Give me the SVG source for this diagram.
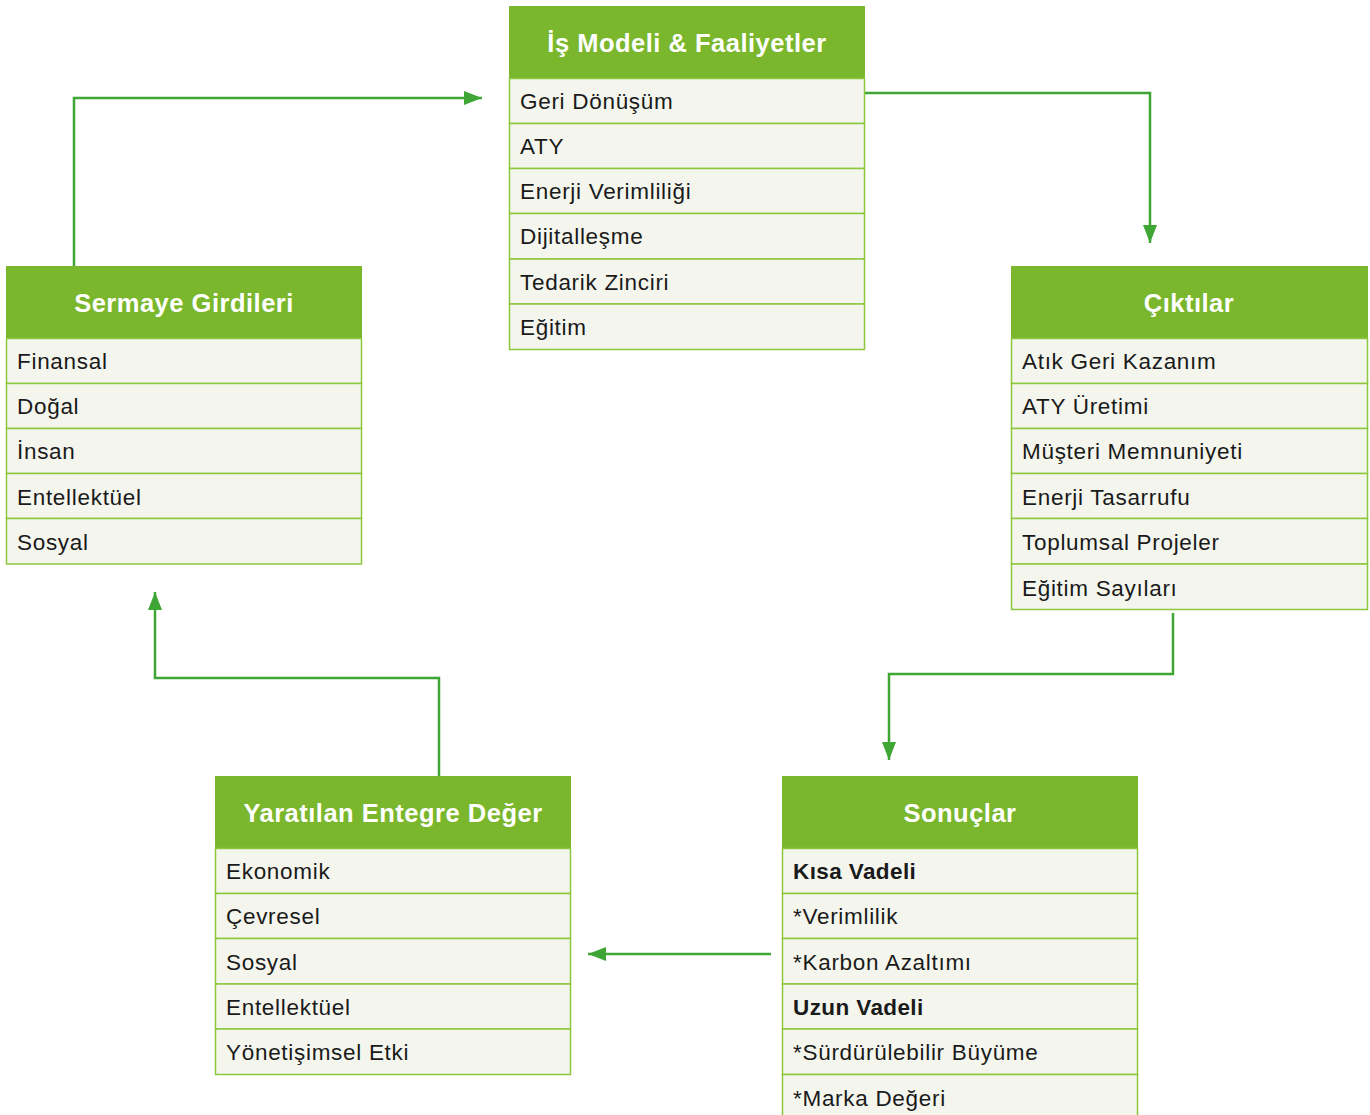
<svg xmlns="http://www.w3.org/2000/svg" width="1370" height="1115" viewBox="0 0 1370 1115">
<style>
.hd{fill:#7ab72c}
.row{fill:#f4f6ee;stroke:#8dc63f;stroke-width:1.5}
.ht{font-family:"Liberation Sans",Arial,sans-serif;font-weight:bold;font-size:25.5px;letter-spacing:0.5px;fill:#fff;text-anchor:middle}
.rt{font-family:"Liberation Sans",Arial,sans-serif;font-size:22.5px;letter-spacing:0.7px;fill:#1a1a1a}
.b{font-weight:bold;letter-spacing:0.4px}
.cn{fill:none;stroke:#3fa535;stroke-width:2.5;marker-end:url(#ah)}
</style>
<defs>
<marker id="ah" markerUnits="userSpaceOnUse" markerWidth="20" markerHeight="14" refX="18" refY="7" orient="auto">
<path d="M0,0 L18,7 L0,14 Z" fill="#3fa535"/>
</marker>
</defs>
<rect width="1370" height="1115" fill="#fff"/>
<g id="connectors">
<path class="cn" d="M74,266 V98 H482"/>
<path class="cn" d="M865,93 H1150 V243"/>
<path class="cn" d="M1173,613 V674 H889 V760"/>
<path class="cn" d="M771,954 H588"/>
<path class="cn" d="M439,776 V678 H155 V592"/>
</g>
<g id="is-modeli">
<rect class="hd" x="509" y="6" width="356" height="72"/>
<text class="ht" x="687" y="52">İş Modeli &amp; Faaliyetler</text>
<rect class="row" x="509.5" y="78.5" width="355" height="45"/>
<rect class="row" x="509.5" y="123.5" width="355" height="45"/>
<rect class="row" x="509.5" y="168.5" width="355" height="45"/>
<rect class="row" x="509.5" y="213.5" width="355" height="45.5"/>
<rect class="row" x="509.5" y="259" width="355" height="45"/>
<rect class="row" x="509.5" y="304" width="355" height="45.5"/>
<text class="rt" x="520" y="109">Geri Dönüşüm</text>
<text class="rt" x="520" y="154">ATY</text>
<text class="rt" x="520" y="199">Enerji Verimliliği</text>
<text class="rt" x="520" y="244">Dijitalleşme</text>
<text class="rt" x="520" y="290">Tedarik Zinciri</text>
<text class="rt" x="520" y="335">Eğitim</text>
</g>
<g id="sermaye">
<rect class="hd" x="6" y="266" width="356" height="72"/>
<text class="ht" x="184" y="312">Sermaye Girdileri</text>
<rect class="row" x="6.5" y="338.5" width="355" height="45"/>
<rect class="row" x="6.5" y="383.5" width="355" height="45"/>
<rect class="row" x="6.5" y="428.5" width="355" height="45"/>
<rect class="row" x="6.5" y="473.5" width="355" height="45"/>
<rect class="row" x="6.5" y="518.5" width="355" height="45.5"/>
<text class="rt" x="17" y="369">Finansal</text>
<text class="rt" x="17" y="414">Doğal</text>
<text class="rt" x="17" y="459">İnsan</text>
<text class="rt" x="17" y="505">Entellektüel</text>
<text class="rt" x="17" y="550">Sosyal</text>
</g>
<g id="ciktilar">
<rect class="hd" x="1011" y="266" width="357" height="72"/>
<text class="ht" x="1189" y="312">Çıktılar</text>
<rect class="row" x="1011.5" y="338.5" width="356" height="45"/>
<rect class="row" x="1011.5" y="383.5" width="356" height="45"/>
<rect class="row" x="1011.5" y="428.5" width="356" height="45"/>
<rect class="row" x="1011.5" y="473.5" width="356" height="45"/>
<rect class="row" x="1011.5" y="518.5" width="356" height="45.5"/>
<rect class="row" x="1011.5" y="564" width="356" height="45.5"/>
<text class="rt" x="1022" y="369">Atık Geri Kazanım</text>
<text class="rt" x="1022" y="414">ATY Üretimi</text>
<text class="rt" x="1022" y="459">Müşteri Memnuniyeti</text>
<text class="rt" x="1022" y="505">Enerji Tasarrufu</text>
<text class="rt" x="1022" y="550">Toplumsal Projeler</text>
<text class="rt" x="1022" y="596">Eğitim Sayıları</text>
</g>
<g id="yaratilan">
<rect class="hd" x="215" y="776" width="356" height="72"/>
<text class="ht" x="393" y="822">Yaratılan Entegre Değer</text>
<rect class="row" x="215.5" y="848.5" width="355" height="45"/>
<rect class="row" x="215.5" y="893.5" width="355" height="45"/>
<rect class="row" x="215.5" y="938.5" width="355" height="45.5"/>
<rect class="row" x="215.5" y="984" width="355" height="45"/>
<rect class="row" x="215.5" y="1029" width="355" height="45.5"/>
<text class="rt" x="226" y="879">Ekonomik</text>
<text class="rt" x="226" y="924">Çevresel</text>
<text class="rt" x="226" y="970">Sosyal</text>
<text class="rt" x="226" y="1015">Entellektüel</text>
<text class="rt" x="226" y="1060">Yönetişimsel Etki</text>
</g>
<g id="sonuclar">
<rect class="hd" x="782" y="776" width="356" height="72"/>
<text class="ht" x="960" y="822">Sonuçlar</text>
<rect class="row" x="782.5" y="848.5" width="355" height="45"/>
<rect class="row" x="782.5" y="893.5" width="355" height="45"/>
<rect class="row" x="782.5" y="938.5" width="355" height="45.5"/>
<rect class="row" x="782.5" y="984" width="355" height="45"/>
<rect class="row" x="782.5" y="1029" width="355" height="45.5"/>
<rect class="row" x="782.5" y="1074.5" width="355" height="45"/>
<text class="rt b" x="793" y="879">Kısa Vadeli</text>
<text class="rt" x="793" y="924">*Verimlilik</text>
<text class="rt" x="793" y="970">*Karbon Azaltımı</text>
<text class="rt b" x="793" y="1015">Uzun Vadeli</text>
<text class="rt" x="793" y="1060">*Sürdürülebilir Büyüme</text>
<text class="rt" x="793" y="1106">*Marka Değeri</text>
</g>
</svg>
